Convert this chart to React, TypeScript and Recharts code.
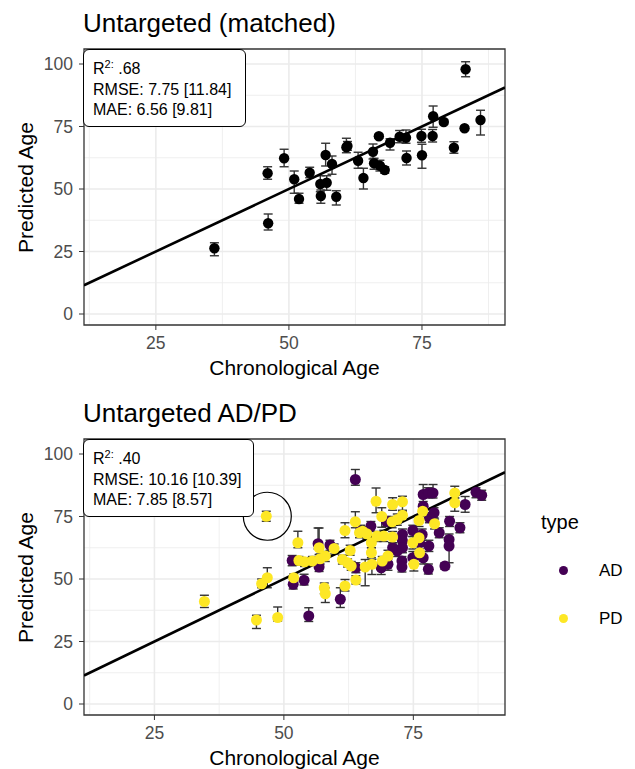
import React from "react";
import {
  ScatterChart,
  Scatter,
  XAxis,
  YAxis,
  CartesianGrid,
  ErrorBar,
  ReferenceLine,
  ReferenceDot,
  ReferenceArea,
} from "recharts";

const FONT = '"Liberation Sans", Arial, sans-serif';

// Untargeted (matched): chronological age, predicted age, error bar ends
const matchedAge = [83.2, 86.0, 77.1, 79.1, 83.0, 81.0, 74.9, 77.0, 75.0, 72.1, 72.0, 70.8, 69.0, 66.9, 65.8, 66.0, 67.1, 68.0, 63.0, 64.0, 60.8, 61.0, 56.9, 58.1, 55.9, 57.1, 56.0, 58.9, 53.9, 51.0, 51.9, 49.1, 46.0, 46.1, 36.0];
const matchedPred = [97.9, 77.6, 79.1, 76.8, 74.3, 66.5, 71.2, 71.2, 63.5, 62.4, 70.5, 70.9, 68.5, 71.1, 64.9, 60.3, 59.3, 57.6, 61.3, 54.4, 66.7, 67.2, 63.6, 60.0, 52.0, 52.5, 47.2, 46.9, 56.5, 53.9, 46.0, 62.3, 56.3, 36.3, 26.3];
const matchedLo = [94.9, 71.6, 74.7, 75.8, 73.5, 64.3, 68.7, 68.8, 58.3, 59.6, 68.3, 68.5, 65.6, 70.3, 62.0, 57.9, 57.2, 56.3, 58.3, 50.0, 64.5, 65.5, 59.2, 55.9, 48.9, 49.5, 44.3, 43.6, 54.5, 48.3, 44.3, 58.9, 53.9, 33.6, 23.3];
const matchedHi = [100.9, 81.5, 83.2, 77.8, 75.1, 68.9, 73.9, 73.8, 67.9, 65.2, 73.6, 73.4, 70.1, 71.9, 68.0, 62.3, 61.5, 58.9, 64.7, 58.3, 70.3, 69.0, 68.3, 63.2, 55.3, 55.3, 49.6, 49.3, 58.7, 57.2, 48.3, 65.9, 58.9, 40.0, 28.5];

// Untargeted AD/PD, type AD
const adAge = [54.8, 51.8, 51.6, 53.9, 56.6, 56.8, 58.9, 60.9, 63.8, 63.9, 64.8, 66.8, 68.8, 70.1, 69.8, 71.9, 72.9, 72.9, 72.9, 72.8, 72.8, 74.9, 76.7, 76.9, 76.9, 77.9, 78.8, 78.1, 79.0, 78.0, 77.9, 80.0, 81.1, 81.9, 81.9, 82.0, 84.0, 85.0, 87.1, 88.2, 76.9, 74.9, 71.0, 76.2];
const adPred = [35.2, 47.9, 57.4, 49.5, 64.1, 54.8, 63.6, 41.9, 89.8, 54.5, 69.1, 71.1, 54.5, 55.9, 73.1, 61.2, 67.8, 65.2, 62.5, 57.2, 54.8, 58.5, 67.8, 83.8, 79.1, 84.4, 84.4, 74.5, 76.5, 63.2, 53.9, 68.5, 55.2, 65.8, 63.2, 73.1, 70.5, 79.8, 84.7, 83.5, 58.5, 69.4, 62.5, 64.5];
const adLo = [33.0, 46.0, 55.3, 47.6, 62.0, 53.0, 61.5, 38.6, 87.5, 52.5, 67.0, 69.0, 51.8, 53.5, 71.0, 59.0, 65.5, 63.0, 60.5, 55.0, 52.8, 56.0, 65.5, 80.0, 77.0, 82.5, 82.4, 72.5, 74.5, 61.0, 52.0, 66.5, 53.9, 63.5, 56.5, 71.0, 68.5, 76.7, 82.5, 81.5, 56.0, 67.0, 60.5, 62.0];
const adHi = [38.5, 50.0, 59.4, 51.9, 70.4, 56.5, 65.5, 46.5, 93.8, 56.5, 71.5, 73.0, 56.5, 58.0, 75.0, 63.5, 70.0, 67.5, 64.5, 59.0, 56.8, 61.0, 70.0, 87.8, 81.0, 86.5, 87.8, 76.5, 78.5, 65.5, 56.0, 70.5, 56.5, 68.0, 66.5, 75.0, 72.5, 83.0, 86.5, 85.5, 61.0, 71.5, 64.5, 67.0];

// Untargeted AD/PD, type PD
const pdAge = [34.65, 44.7, 48.8, 45.7, 46.8, 46.6, 51.9, 52.7, 52.9, 54.0, 55.5, 56.8, 57.8, 58.0, 58.0, 59.7, 61.3, 61.8, 61.8, 62.3, 63.0, 62.8, 63.8, 63.9, 64.6, 65.2, 65.7, 66.0, 66.9, 66.9, 67.0, 67.8, 68.0, 68.9, 69.0, 69.3, 70.1, 71.0, 71.0, 70.9, 71.9, 72.9, 72.9, 74.9, 75.1, 76.1, 76.1, 76.2, 76.8, 79.1, 83.0, 83.0, 57.0];
const pdPred = [41.0, 33.6, 34.6, 48.1, 50.5, 75.1, 50.5, 64.5, 57.4, 56.9, 57.2, 62.5, 46.5, 44.1, 59.2, 62.2, 57.8, 69.4, 47.2, 56.5, 55.2, 61.4, 72.9, 49.6, 68.5, 69.1, 54.8, 68.1, 64.5, 60.5, 55.9, 81.1, 67.2, 75.0, 57.2, 67.2, 59.2, 79.8, 66.8, 72.9, 73.8, 80.9, 75.5, 64.5, 55.9, 73.4, 66.5, 60.5, 77.1, 72.1, 84.4, 80.5, 58.1];
const pdLo = [38.6, 30.2, 33.2, 46.5, 46.5, 73.1, 49.0, 62.5, 55.5, 55.0, 55.5, 59.8, 44.1, 40.6, 57.0, 60.0, 56.0, 66.5, 45.2, 54.8, 53.5, 59.5, 70.5, 48.0, 66.5, 67.0, 47.3, 66.0, 62.5, 58.5, 51.8, 76.5, 65.0, 70.7, 55.0, 65.0, 57.0, 77.5, 64.5, 70.5, 71.5, 77.1, 73.5, 62.0, 53.2, 71.0, 64.0, 58.0, 75.0, 70.0, 82.4, 77.1, 56.0];
const pdHi = [43.5, 35.5, 38.8, 50.0, 54.5, 77.1, 52.0, 69.1, 59.0, 58.5, 59.0, 70.4, 48.4, 46.5, 61.0, 64.0, 59.5, 72.5, 49.8, 58.0, 57.0, 63.5, 76.9, 51.3, 70.5, 71.0, 57.8, 70.0, 66.5, 62.5, 57.9, 86.4, 69.0, 78.5, 59.0, 69.5, 61.5, 82.5, 69.0, 75.0, 76.0, 83.1, 77.5, 67.0, 58.5, 75.5, 69.0, 63.0, 79.0, 74.0, 87.1, 82.4, 60.0];

// the circled outlier in the AD/PD panel
const highlightPoint = [46.8, 75.1];

const yTicks = [0, 25, 50, 75, 100];
const xTicks = [25, 50, 75];
const minorTicks = [12.5, 37.5, 62.5, 87.5];
const yDomain = [-4.4, 106];
const matchedXDomain = [11.5, 90.6];
const adpdXDomain = [11.4, 92.7];

const matchedStats = [".68", "7.75 [11.84]", "6.56 [9.81]"];
const adpdStats = [".40", "10.16 [10.39]", "7.85 [8.57]"];

const AD_COLOR = "#440154";
const PD_COLOR = "#FDE725";

function toRows(age: number[], pred: number[], lo: number[], hi: number[]) {
  return age.map((a, i) => ({
    age: a,
    pred: pred[i],
    err: [pred[i] - lo[i], hi[i] - pred[i]],
  }));
}

interface Series {
  name: string;
  color: string;
  rows: Array<{ age: number; pred: number; err: number[] }>;
}

interface PanelProps {
  top: number;
  title: string;
  xDomain: number[];
  series: Series[];
  stats: string[];
  boxWidth: number;
  dotRadius: number;
  highlight?: number[];
  children?: React.ReactNode;
}

function Panel({ top, title, xDomain, series, stats, boxWidth, dotRadius, highlight, children }: PanelProps) {
  const tickStyle = { fill: "#4d4d4d", fontSize: 17.5, fontFamily: FONT };
  return (
    <div style={{ position: "absolute", left: 0, top, width: 635, height: 390 }}>
      <div
        style={{
          position: "absolute",
          left: 83,
          top: 10,
          fontSize: 26,
          lineHeight: "26px",
          whiteSpace: "nowrap",
          color: "#000",
        }}
      >
        {title}
      </div>
      <div style={{ position: "absolute", left: 0, top: 0 }}>
        <ScatterChart width={520} height={390} margin={{ top: 49, right: 15, left: 0, bottom: 0 }}>
          <CartesianGrid
            horizontalValues={minorTicks}
            verticalValues={minorTicks}
            stroke="#ebebeb"
            strokeWidth={0.8}
          />
          <CartesianGrid
            horizontalValues={yTicks}
            verticalValues={xTicks}
            stroke="#ebebeb"
            strokeWidth={1.6}
          />
          <XAxis
            type="number"
            dataKey="age"
            domain={xDomain}
            allowDataOverflow
            ticks={xTicks}
            tickSize={5}
            tickMargin={7}
            axisLine={false}
            tickLine={{ stroke: "#333333" }}
            tick={tickStyle}
            height={65}
          />
          <YAxis
            type="number"
            dataKey="pred"
            domain={yDomain}
            allowDataOverflow
            ticks={yTicks}
            tickSize={5}
            tickMargin={6}
            axisLine={false}
            tickLine={{ stroke: "#333333" }}
            tick={tickStyle}
            width={84}
          />
          {series.map((s) => (
            <Scatter
              key={s.name}
              name={s.name}
              data={s.rows}
              isAnimationActive={false}
              shape={(p: any) => <circle cx={p.cx} cy={p.cy} r={dotRadius} fill={s.color} />}
            >
              <ErrorBar dataKey="err" direction="y" width={4.5} stroke="#333333" strokeWidth={1.4} />
            </Scatter>
          ))}
          <ReferenceLine
            segment={[
              { x: xDomain[0], y: xDomain[0] },
              { x: xDomain[1], y: xDomain[1] },
            ]}
            stroke="#000"
            strokeWidth={2.6}
            ifOverflow="hidden"
          />
          {highlight && (
            <ReferenceDot
              x={highlight[0]}
              y={highlight[1]}
              r={24}
              fill="none"
              stroke="#000"
              strokeWidth={1.2}
              ifOverflow="visible"
            />
          )}
          <ReferenceArea
            x1={xDomain[0]}
            x2={xDomain[1]}
            y1={yDomain[0]}
            y2={yDomain[1]}
            fill="none"
            fillOpacity={0}
            stroke="#333333"
            strokeWidth={1.3}
            ifOverflow="visible"
          />
        </ScatterChart>
      </div>
      {/* axis titles */}
      <div
        style={{
          position: "absolute",
          left: 144.5,
          top: 357,
          width: 300,
          textAlign: "center",
          fontSize: 21,
          lineHeight: "21px",
          color: "#000",
        }}
      >
        Chronological Age
      </div>
      <div
        style={{
          position: "absolute",
          left: -125.5,
          top: 176.5,
          width: 300,
          height: 21,
          textAlign: "center",
          fontSize: 21,
          lineHeight: "21px",
          color: "#000",
          transform: "rotate(-90deg)",
        }}
      >
        Predicted Age
      </div>
      {/* stats label */}
      <div
        style={{
          position: "absolute",
          left: 83,
          top: 49,
          width: boxWidth,
          height: 77.5,
          boxSizing: "border-box",
          border: "1px solid #000",
          borderRadius: 6,
          background: "#fff",
          padding: "8.5px 0 0 9px",
          fontSize: 16,
          lineHeight: "20.4px",
          color: "#000",
          whiteSpace: "nowrap",
        }}
      >
        <div>
          R
          <span style={{ fontSize: 11, position: "relative", top: -6 }}>2:</span> {stats[0]}
        </div>
        <div>RMSE: {stats[1]}</div>
        <div>MAE: {stats[2]}</div>
      </div>
      {children}
    </div>
  );
}

export default function App() {
  const matched: Series[] = [
    { name: "matched", color: "#000", rows: toRows(matchedAge, matchedPred, matchedLo, matchedHi) },
  ];
  const adpd: Series[] = [
    { name: "AD", color: AD_COLOR, rows: toRows(adAge, adPred, adLo, adHi) },
    { name: "PD", color: PD_COLOR, rows: toRows(pdAge, pdPred, pdLo, pdHi) },
  ];

  const legendItems = [
    { label: "AD", color: AD_COLOR, cy: 180 },
    { label: "PD", color: PD_COLOR, cy: 228 },
  ];

  return (
    <div
      style={{
        position: "absolute",
        left: 0,
        top: 0,
        width: 635,
        height: 769,
        background: "#fff",
        fontFamily: FONT,
        overflow: "hidden",
      }}
    >
      <Panel
        top={0}
        title="Untargeted (matched)"
        xDomain={matchedXDomain}
        series={matched}
        stats={matchedStats}
        boxWidth={163}
        dotRadius={5.2}
      />
      <Panel
        top={390}
        title="Untargeted AD/PD"
        xDomain={adpdXDomain}
        series={adpd}
        stats={adpdStats}
        boxWidth={171}
        dotRadius={5.5}
        highlight={highlightPoint}
      >
        <div
          style={{
            position: "absolute",
            left: 541,
            top: 122,
            fontSize: 20,
            lineHeight: "20px",
            color: "#000",
          }}
        >
          type
        </div>
        {legendItems.map((item) => (
          <React.Fragment key={item.label}>
            <div
              style={{
                position: "absolute",
                left: 558.5,
                top: item.cy - 4.5,
                width: 9,
                height: 9,
                borderRadius: "50%",
                background: item.color,
              }}
            />
            <div
              style={{
                position: "absolute",
                left: 599,
                top: item.cy - 8.4,
                fontSize: 17,
                lineHeight: "17px",
                color: "#000",
              }}
            >
              {item.label}
            </div>
          </React.Fragment>
        ))}
      </Panel>
    </div>
  );
}
